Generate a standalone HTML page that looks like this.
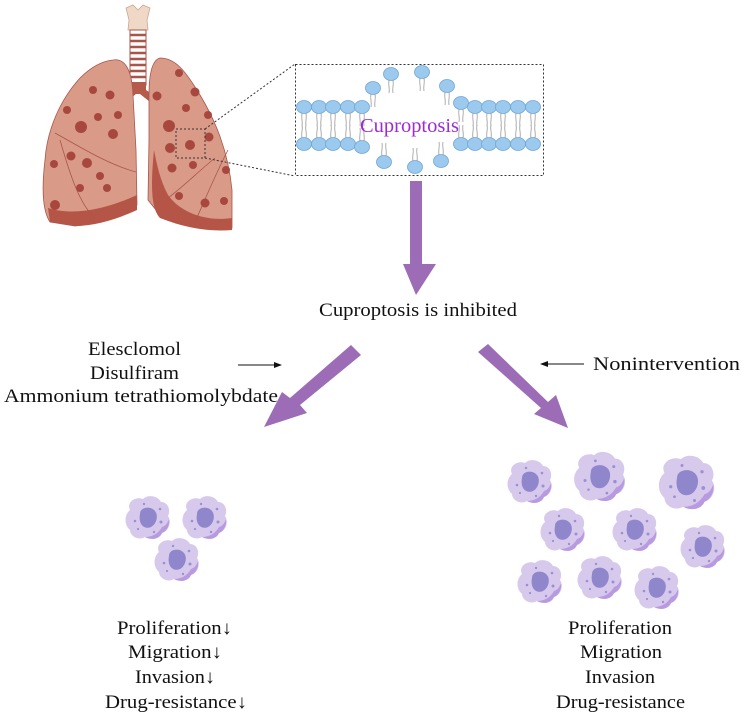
<!DOCTYPE html>
<html><head><meta charset="utf-8"><style>
html,body{margin:0;padding:0;background:#fff;}
svg{display:block;}
text{font-family:"Liberation Serif",serif;fill:#111;}
</style></head><body>
<svg width="744" height="723" viewBox="0 0 744 723" xmlns="http://www.w3.org/2000/svg">
<defs>
<g id="cell">
<path d="M-18,-8 C-22,-16 -12,-22 -5,-19 C0,-24 10,-22 13,-16 C20,-16 23,-8 20,-2 C24,4 21,13 14,15 C11,22 2,22 -3,19 C-10,23 -18,18 -18,12 C-24,7 -24,-3 -18,-8Z" fill="#d7c9ec"/>
<path d="M14,15 C11,22 2,22 -3,19 C4,19 10,16 14,9 C18,8 20,4 21,1 C22,7 19,13 14,15Z" fill="#b89ae0"/>
<path d="M-8,-4 C-8,-11 2,-12 6,-8 C11,-4 9,6 3,9 C-4,12 -10,6 -8,-4Z" fill="#8f86cc"/>
<circle cx="-13" cy="3" r="1.3" fill="#9a8fd4"/><circle cx="12" cy="-9" r="1.3" fill="#9a8fd4"/>
<circle cx="13" cy="4" r="1.5" fill="#9a8fd4"/><circle cx="-4" cy="-14" r="1.2" fill="#9a8fd4"/>
<circle cx="6" cy="14" r="1.2" fill="#9a8fd4"/><circle cx="-10" cy="11" r="1.1" fill="#9a8fd4"/>
</g>
<g id="lip">
<ellipse cx="0" cy="0" rx="7.5" ry="6.5" fill="#9cc9ee" stroke="#6fa6d6" stroke-width="0.8"/>
<path d="M-2,6 C-3,12 -1,14 -2,19 M2,6 C3,12 1,14 2,19" stroke="#999" stroke-width="0.8" fill="none"/>
</g>
<g id="lipd">
<ellipse cx="0" cy="0" rx="7.5" ry="6.5" fill="#9cc9ee" stroke="#6fa6d6" stroke-width="0.8"/>
<path d="M-2,-6 C-3,-12 -1,-14 -2,-19 M2,-6 C3,-12 1,-14 2,-19" stroke="#999" stroke-width="0.8" fill="none"/>
</g>
</defs>

<!-- trachea -->
<path d="M126,8 L133,5 L138,10 L143,5 L150,8 L147,20 L148,30 L128,30 L129,20Z" fill="#efd9c6" stroke="#c9a890" stroke-width="0.8"/>
<rect x="130" y="30" width="16" height="55" fill="#fff" stroke="#a8554a" stroke-width="1"/>
<g stroke="#a8554a" stroke-width="2.5">
<line x1="130" y1="35" x2="146" y2="35"/><line x1="130" y1="41" x2="146" y2="41"/><line x1="130" y1="47" x2="146" y2="47"/><line x1="130" y1="53" x2="146" y2="53"/><line x1="130" y1="59" x2="146" y2="59"/><line x1="130" y1="65" x2="146" y2="65"/><line x1="130" y1="71" x2="146" y2="71"/><line x1="130" y1="77" x2="146" y2="77"/>
</g>
<path d="M130,82 L146,82 L146,90 L155,96 L150,102 L140,94 L136,94 L126,102 L121,96 L130,90Z" fill="#b65a4c"/>

<!-- left lung -->
<path d="M113,60 C125,58 132,70 133,95 L136,150 L137,205 C120,215 100,224 75,226 L50,222 C42,210 42,185 45,160 C47,130 60,100 80,78 C92,66 103,61 113,60Z" fill="#d99a88" stroke="#a8564b" stroke-width="0.8"/>
<path d="M137,195 L137,210 C115,220 95,226 75,226 L50,222 L48,208 C70,215 100,212 137,195Z" fill="#b55547"/>
<path d="M55,133 C85,150 110,165 136,172" stroke="#a8564b" stroke-width="0.8" fill="none"/>
<path d="M60,140 C70,175 80,205 95,218" stroke="#a8564b" stroke-width="0.8" fill="none"/>
<!-- right lung -->
<path d="M160,58 C175,58 185,70 200,95 C215,120 228,150 232,190 L232,228 C210,232 180,225 160,215 L148,200 L149,140 L149,95 C149,75 152,60 160,58Z" fill="#d99a88" stroke="#a8564b" stroke-width="0.8"/>
<path d="M154,150 C150,190 152,210 160,218 C185,228 210,232 232,230 L232,218 C205,222 180,212 168,195 C160,180 157,165 154,150Z" fill="#b55547"/>
<path d="M168,198 C185,185 200,170 215,158" stroke="#a8564b" stroke-width="0.8" fill="none"/>
<path d="M228,150 C215,175 205,200 195,222" stroke="#a8564b" stroke-width="0.8" fill="none"/>
<g fill="#a8473d">
<circle cx="93" cy="90" r="4"/><circle cx="110" cy="95" r="4.5"/><circle cx="67" cy="110" r="4"/><circle cx="98" cy="117" r="4"/><circle cx="118" cy="115" r="4"/><circle cx="81" cy="127" r="6"/><circle cx="113" cy="134" r="5"/><circle cx="71" cy="156" r="4.5"/><circle cx="87" cy="163" r="5"/><circle cx="54" cy="164" r="4"/><circle cx="100" cy="176" r="4"/><circle cx="80" cy="188" r="4"/><circle cx="107" cy="188" r="4"/><circle cx="55" cy="205" r="5"/>
<circle cx="179" cy="73" r="4"/><circle cx="195" cy="92" r="4.5"/><circle cx="157" cy="96" r="4.5"/><circle cx="186" cy="108" r="4"/><circle cx="208" cy="115" r="4"/><circle cx="169" cy="126" r="6"/><circle cx="209" cy="137" r="4.5"/><circle cx="170" cy="148" r="5"/><circle cx="190" cy="145" r="5"/><circle cx="172" cy="168" r="4.5"/><circle cx="193" cy="165" r="4"/><circle cx="226" cy="170" r="4"/><circle cx="179" cy="196" r="4"/><circle cx="205" cy="203" r="4.5"/><circle cx="224" cy="201" r="4"/>
</g>

<!-- zoom lines -->
<g stroke="#333" stroke-width="1" stroke-dasharray="2,2" fill="none">
<rect x="176" y="129" width="29" height="29"/>
<line x1="205" y1="129" x2="295" y2="64"/>
<line x1="205" y1="158" x2="295" y2="176"/>
<rect x="295.5" y="64.5" width="248" height="111"/>
</g>

<!-- membrane -->
<g>
<use href="#lip" x="304" y="107"/><use href="#lip" x="319" y="107"/><use href="#lip" x="333" y="107"/><use href="#lip" x="348" y="107"/><use href="#lip" x="362" y="107"/>
<use href="#lipd" x="304" y="144"/><use href="#lipd" x="319" y="144"/><use href="#lipd" x="333" y="144"/><use href="#lipd" x="348" y="144"/><use href="#lipd" x="362" y="147"/>
<use href="#lip" x="461" y="103"/><use href="#lip" x="475" y="107"/><use href="#lip" x="489" y="107"/><use href="#lip" x="503" y="107"/><use href="#lip" x="518" y="107"/><use href="#lip" x="533" y="107"/>
<use href="#lipd" x="461" y="144"/><use href="#lipd" x="475" y="144"/><use href="#lipd" x="489" y="144"/><use href="#lipd" x="503" y="144"/><use href="#lipd" x="518" y="144"/><use href="#lipd" x="533" y="144"/>
<use href="#lip" x="373" y="88"/><use href="#lip" x="391" y="74"/><use href="#lip" x="422" y="72"/><use href="#lip" x="447" y="86"/>
<use href="#lipd" x="384" y="162"/><use href="#lipd" x="415" y="167"/><use href="#lipd" x="441" y="161"/>
</g>
<text x="360" y="132" font-size="20" textLength="99" lengthAdjust="spacingAndGlyphs" style="fill:#9a2bd6">Cuproptosis</text>

<!-- purple arrows -->
<g fill="#9c6cb6">
<path d="M410,181 L422,181 L422,264 L436,264 L416,295 L403,264 L410,264Z"/>
<path d="M351,345 L361,355 L300,405 L307,413 L264,427 L282,392 L290,398Z"/>
<path d="M478,352 L488,344 L548,402 L556,395 L568,428 L534,414 L541,408Z"/>
</g>

<g font-size="19" lengthAdjust="spacingAndGlyphs">
<text x="319" y="316" textLength="198" lengthAdjust="spacingAndGlyphs">Cuproptosis is inhibited</text>
<text x="88" y="355" textLength="93" lengthAdjust="spacingAndGlyphs">Elesclomol</text>
<text x="90" y="379" textLength="89" lengthAdjust="spacingAndGlyphs">Disulfiram</text>
<text x="4" y="402" textLength="274" lengthAdjust="spacingAndGlyphs">Ammonium tetrathiomolybdate</text>
<text x="593" y="370" textLength="147" lengthAdjust="spacingAndGlyphs">Nonintervention</text>
</g>
<line x1="238" y1="365" x2="278" y2="365" stroke="#111" stroke-width="1"/>
<path d="M282,365 L274,362 L274,368Z" fill="#111"/>
<line x1="545" y1="364" x2="584" y2="364" stroke="#111" stroke-width="1"/>
<path d="M540,364 L548,361 L548,367Z" fill="#111"/>

<!-- cells left -->
<use href="#cell" x="148" y="518"/>
<use href="#cell" x="205" y="518"/>
<use href="#cell" x="177" y="560"/>
<!-- cells right -->
<use href="#cell" x="530" y="482"/>
<use href="#cell" transform="translate(600,477) scale(1.15)"/>
<use href="#cell" transform="translate(687,483) scale(1.25)"/>
<use href="#cell" x="563" y="530"/>
<use href="#cell" x="635" y="530"/>
<use href="#cell" x="703" y="547"/>
<use href="#cell" x="540" y="582"/>
<use href="#cell" x="600" y="578"/>
<use href="#cell" x="657" y="588"/>

<g font-size="19">
<text x="117" y="634" textLength="115" lengthAdjust="spacingAndGlyphs">Proliferation↓</text>
<text x="128" y="658" textLength="94" lengthAdjust="spacingAndGlyphs">Migration↓</text>
<text x="135" y="683" textLength="80" lengthAdjust="spacingAndGlyphs">Invasion↓</text>
<text x="105" y="708" textLength="142" lengthAdjust="spacingAndGlyphs">Drug-resistance↓</text>
<text x="568" y="634" textLength="104" lengthAdjust="spacingAndGlyphs">Proliferation</text>
<text x="580" y="658" textLength="82" lengthAdjust="spacingAndGlyphs">Migration</text>
<text x="585" y="683" textLength="70" lengthAdjust="spacingAndGlyphs">Invasion</text>
<text x="556" y="708" textLength="129" lengthAdjust="spacingAndGlyphs">Drug-resistance</text>
</g>
</svg>
</body></html>
